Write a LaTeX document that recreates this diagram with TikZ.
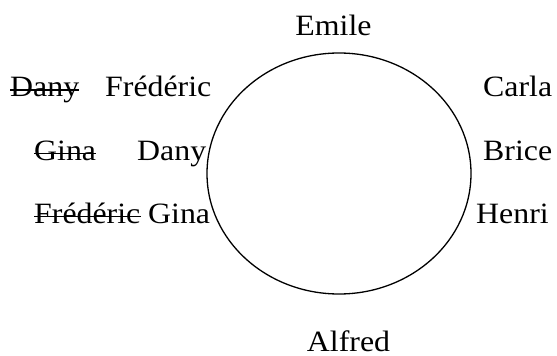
\documentclass[tikz,border=0pt]{standalone}
\usepackage{fontspec}
\setmainfont{Liberation Serif}[FakeStretch=1.08]
\begin{document}
\begin{tikzpicture}[x=1pt,y=-1pt,
  lbl/.style={inner sep=0pt,font=\fontsize{29.5}{32}\selectfont},
  strike/.style={line width=1.9pt}]
\useasboundingbox (0,0) rectangle (557,356);
\draw[line width=1.3pt] (339,173.5) ellipse [x radius=132, y radius=120.5];
\node[lbl,anchor=base] (emile) at (333.5,35) {Emile};
\node[lbl,anchor=base,text depth=0pt] (alfred) at (348.5,351) {Alfred};
\node[lbl,anchor=base west] (carla) at (483,96.7) {Carla};
\node[lbl,anchor=base west] (brice) at (483,160) {Brice};
\node[lbl,anchor=base west] (henri) at (476,223) {Henri};
\node[lbl,anchor=base west] (danyA) at (10,96.7) {Dany};
\node[lbl,anchor=base west] (fredA) at (105,96.7) {Frédéric};
\node[lbl,anchor=base west] (ginaB) at (34,160) {Gina};
\node[lbl,anchor=base west] (danyB) at (137,160) {Dany};
\node[lbl,anchor=base west] (fredC) at (34,223) {Frédéric};
\node[lbl,anchor=base west] (ginaC) at (148,223) {Gina};
\foreach \n in {danyA,ginaB,fredC}
  \draw[strike] ([yshift=6.5pt]\n.base west) -- ([yshift=6.5pt]\n.base east);
\end{tikzpicture}
\end{document}
